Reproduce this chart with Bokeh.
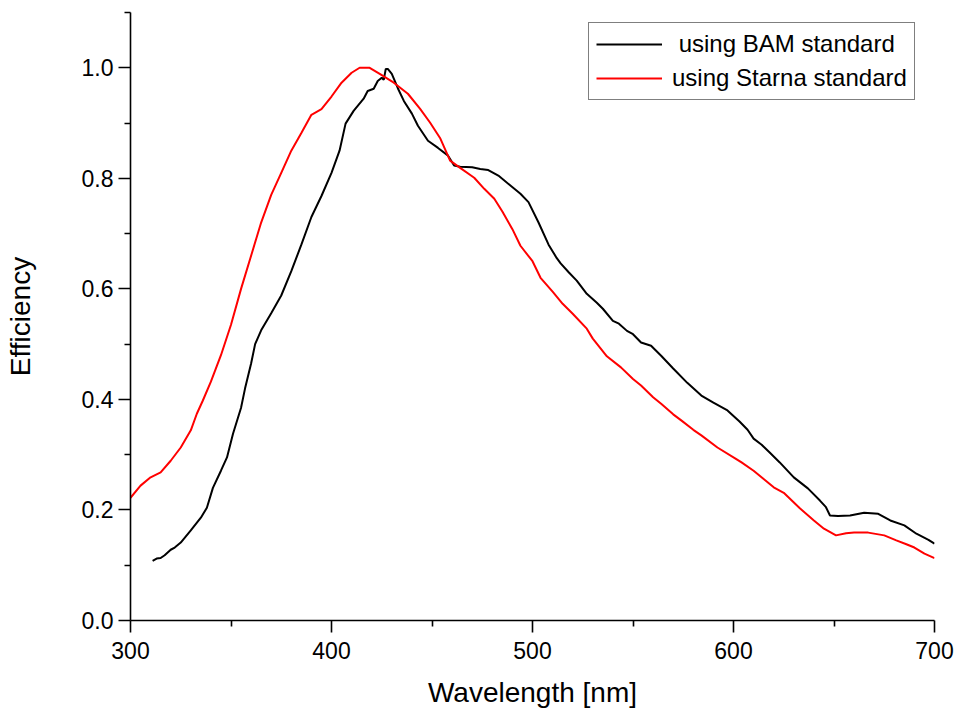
from bokeh.plotting import figure
from bokeh.models import (Range1d, FixedTicker, PrintfTickFormatter, Legend, LegendItem)
from bokeh.embed import file_html
from bokeh.resources import INLINE

# ---- data ----
bam_x = [311, 313, 315, 317, 320, 322, 325, 330, 335, 338, 341, 345, 348, 351, 355, 357,
         360, 362, 365, 370, 375, 380, 385, 390, 395, 400, 404, 407, 411, 416, 418, 421,
         423, 425, 426, 427, 428, 430, 433, 436, 440, 443, 448, 453, 458, 461, 464, 470,
         474, 478, 483, 489, 494, 498, 503, 508, 512, 514, 518, 522, 527, 532, 535, 540,
         543, 547, 550, 554, 559, 564, 570, 577, 584, 590, 597, 603, 607, 610, 614, 618,
         623, 630, 637, 643, 646, 648, 652, 658, 665, 672, 678, 685, 691, 697, 700]
bam_y = [0.108, 0.112, 0.113, 0.118, 0.128, 0.132, 0.141, 0.163, 0.186, 0.204, 0.240, 0.271,
         0.295, 0.338, 0.385, 0.420, 0.465, 0.500, 0.525, 0.556, 0.588, 0.632, 0.680, 0.730,
         0.768, 0.810, 0.850, 0.899, 0.922, 0.944, 0.958, 0.962, 0.976, 0.982, 0.978, 0.998,
         0.998, 0.989, 0.963, 0.940, 0.917, 0.895, 0.868, 0.855, 0.841, 0.823, 0.821, 0.820,
         0.817, 0.815, 0.805, 0.787, 0.772, 0.757, 0.720, 0.680, 0.656, 0.646, 0.630, 0.615,
         0.591, 0.575, 0.564, 0.542, 0.537, 0.524, 0.518, 0.503, 0.497, 0.479, 0.456, 0.430,
         0.407, 0.394, 0.380, 0.360, 0.345, 0.329, 0.318, 0.304, 0.286, 0.259, 0.239, 0.217,
         0.205, 0.190, 0.189, 0.190, 0.195, 0.193, 0.181, 0.172, 0.157, 0.146, 0.139]

starna_x = [300, 305, 310, 315, 320, 325, 330, 333, 336, 340, 345, 350, 355, 360, 365, 370,
            375, 380, 385, 390, 395, 400, 405, 410, 414, 419, 424, 431, 438, 444, 449, 454,
            459, 464, 471, 476, 481, 485, 490, 494, 500, 504, 510, 515, 520, 527, 530, 537,
            544, 550, 554, 560, 564, 570, 574, 580, 584, 592, 601, 604, 610, 615, 620, 625,
            633, 640, 645, 651, 656, 660, 667, 675, 681, 686, 690, 695, 700]
starna_y = [0.222, 0.244, 0.259, 0.268, 0.289, 0.313, 0.344, 0.374, 0.398, 0.432, 0.480, 0.535,
            0.600, 0.660, 0.720, 0.770, 0.810, 0.850, 0.882, 0.915, 0.925, 0.948, 0.973, 0.991,
            1.000, 1.000, 0.989, 0.973, 0.953, 0.926, 0.901, 0.873, 0.832, 0.819, 0.801, 0.781,
            0.763, 0.740, 0.708, 0.678, 0.650, 0.620, 0.595, 0.573, 0.555, 0.528, 0.510, 0.478,
            0.458, 0.437, 0.425, 0.404, 0.392, 0.373, 0.362, 0.345, 0.335, 0.313, 0.293, 0.286,
            0.271, 0.256, 0.241, 0.231, 0.203, 0.181, 0.166, 0.154, 0.158, 0.159, 0.159, 0.154,
            0.145, 0.138, 0.132, 0.121, 0.113]

x_major = [300, 400, 500, 600, 700]
x_minor = [350, 450, 550, 650]
y_major = [0.0, 0.2, 0.4, 0.6, 0.8, 1.0]
y_minor = [0.1, 0.3, 0.5, 0.7, 0.9, 1.1]

label_bam = "\u00a0using BAM standard"
label_starna = "using Starna standard"

FONT = "Liberation Sans"

p = figure(width=954, height=710, output_backend="svg", toolbar_location=None,
           x_range=Range1d(300, 700), y_range=Range1d(0, 1.1),
           min_border_left=130, min_border_right=20, min_border_top=12, min_border_bottom=90,
           background_fill_color="white", border_fill_color="white")
p.outline_line_color = None
p.grid.visible = False

r1 = p.line(bam_x, bam_y, line_color="black", line_width=2)
r2 = p.line(starna_x, starna_y, line_color="#ff0000", line_width=2)

for ax in (p.xaxis[0], p.yaxis[0]):
    ax.axis_line_width = 1.6
    ax.axis_line_color = "black"
    ax.major_tick_line_width = 1.6
    ax.minor_tick_line_width = 1.6
    ax.major_tick_line_color = "black"
    ax.minor_tick_line_color = "black"
    ax.major_tick_in = 0
    ax.major_tick_out = 12
    ax.minor_tick_in = 0
    ax.minor_tick_out = 6
    ax.major_label_text_font = FONT
    ax.major_label_text_font_size = "23px"
    ax.major_label_text_color = "black"
    ax.axis_label_text_font = FONT
    ax.axis_label_text_font_size = "28px"
    ax.axis_label_text_font_style = "normal"
    ax.axis_label_text_color = "black"

p.xaxis[0].ticker = FixedTicker(ticks=x_major, minor_ticks=x_minor)
p.yaxis[0].ticker = FixedTicker(ticks=y_major, minor_ticks=y_minor)
p.yaxis[0].formatter = PrintfTickFormatter(format="%.1f")
p.xaxis[0].axis_label = "Wavelength [nm]"
p.yaxis[0].axis_label = "Efficiency"
p.xaxis[0].major_label_standoff = 9
p.yaxis[0].major_label_standoff = 5
p.xaxis[0].axis_label_standoff = 15
p.yaxis[0].axis_label_standoff = 43

legend = Legend(items=[LegendItem(label=label_bam, renderers=[r1]),
                       LegendItem(label=label_starna, renderers=[r2])],
                location=(458, 520), margin=0, padding=7, spacing=6,
                glyph_width=66, glyph_height=24, label_standoff=10,
                label_text_font=FONT, label_text_font_size="24px",
                label_text_color="black",
                border_line_color="black", border_line_width=1.5,
                background_fill_color="white", background_fill_alpha=1.0)
p.add_layout(legend, "center")

open("out.html", "w").write(file_html(p, INLINE))
